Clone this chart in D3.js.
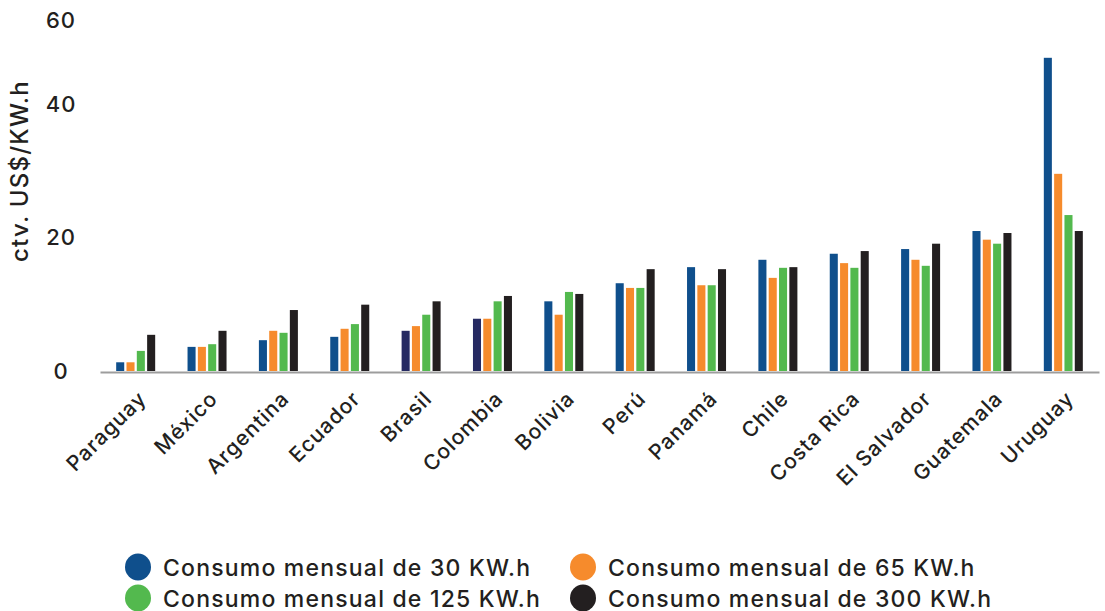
<!DOCTYPE html>
<html>
<head>
<meta charset="utf-8">
<script src="https://cdn.jsdelivr.net/npm/d3@7"></script>
<style>
  html, body { margin: 0; padding: 0; background: #fff; }
  svg { display: block; font-family: Inter, "Open Sans", sans-serif; }
</style>
</head>
<body>
<svg id="chart" width="1105" height="611"></svg>
<script>
// Residential electricity tariffs by monthly consumption (ctv. US$/KW.h)
const categories = ["Paraguay", "México", "Argentina", "Ecuador", "Brasil", "Colombia", "Bolivia",
  "Perú", "Panamá", "Chile", "Costa Rica", "El Salvador", "Guatemala", "Uruguay"];
const seriesNames = ["Consumo mensual de 30 KW.h", "Consumo mensual de 65 KW.h",
  "Consumo mensual de 125 KW.h", "Consumo mensual de 300 KW.h"];
const consumo30  = [1.3, 3.6, 4.6, 5.1, 6.0, 7.8, 10.4, 13.1, 15.5, 16.6, 17.5, 18.2, 20.9, 51.0];
const consumo65  = [1.3, 3.6, 6.0, 6.3, 6.7, 7.8, 8.4, 12.4, 12.8, 13.9, 16.1, 16.6, 19.6, 29.5];
const consumo125 = [3.0, 4.0, 5.7, 7.0, 8.4, 10.4, 11.8, 12.4, 12.8, 15.4, 15.4, 15.7, 19.0, 23.3];
const consumo300 = [5.4, 6.0, 9.1, 9.9, 10.4, 11.2, 11.5, 15.2, 15.2, 15.5, 17.9, 19.0, 20.6, 20.9];
const yTicks = [0, 20, 40, 60];
// countries whose 30 KW.h bar is printed in the darker navy tone
const navyThirty = ["Brasil", "Colombia"];

const colors = ["#0f4f8c", "#f68b2c", "#53b94e", "#231f20"];
const navy = "#262a62";
const textColor = "#231f20";

const seriesValues = [consumo30, consumo65, consumo125, consumo300];
const rows = categories.map((c, i) => ({
  country: c,
  values: seriesValues.map((arr, s) => ({ series: s, value: arr[i], country: c }))
}));

const svg = d3.select("#chart");

// x: one band per country, sub-bands per consumption level
const x = d3.scaleBand().domain(categories).range([100, 1099]).padding(0);
const xSub = d3.scaleBand().domain(d3.range(seriesNames.length)).range([-19.5, 19.5]).paddingInner(0.22);

// y: the printed axis compresses its top segment
const y = d3.scaleLinear().domain(yTicks).range([371, 237, 104, 20]);

// bars
const groups = svg.append("g").selectAll("g")
  .data(rows).join("g")
  .attr("transform", d => `translate(${x(d.country) + x.bandwidth() / 2},0)`);

groups.selectAll("rect")
  .data(d => d.values).join("rect")
  .attr("x", d => xSub(d.series))
  .attr("width", xSub.bandwidth())
  .attr("y", d => y(d.value))
  .attr("height", d => y(0) - y(d.value))
  .attr("fill", d => (d.series === 0 && navyThirty.includes(d.country)) ? navy : colors[d.series]);

// x axis
const xAxis = svg.append("g")
  .attr("transform", `translate(0,${y(0) + 1})`)
  .call(d3.axisBottom(x).tickSize(0).tickSizeOuter(0));
xAxis.select(".domain").attr("stroke", "#9d9d9d").attr("stroke-width", 2);
xAxis.selectAll("text")
  .attr("font-size", 21)
  .attr("font-weight", 500)
  .attr("letter-spacing", 1)
  .attr("fill", textColor)
  .attr("font-family", "Inter, 'Open Sans', sans-serif")
  .attr("text-anchor", "end")
  .attr("dy", 0)
  .attr("y", 0)
  .attr("transform", "translate(12,28) rotate(-45)");

// y axis labels
const yAxis = svg.append("g")
  .attr("transform", "translate(61,0)")
  .call(d3.axisLeft(y).tickValues(yTicks).tickSize(0).tickPadding(0));
yAxis.select(".domain").remove();
yAxis.selectAll("text")
  .attr("font-size", 22)
  .attr("font-weight", 500)
  .attr("letter-spacing", 1)
  .attr("fill", textColor)
  .attr("font-family", "Inter, 'Open Sans', sans-serif")
  .attr("text-anchor", "middle")
  .attr("x", 0)
  .attr("dy", "0.36em");

// y axis title
svg.append("text")
  .attr("transform", "translate(28,171) rotate(-90)")
  .attr("text-anchor", "middle")
  .attr("font-size", 24)
  .attr("font-weight", 500)
  .attr("letter-spacing", 1.2)
  .attr("fill", textColor)
  .text("ctv. US$/KW.h");

// legend
const legendPos = [[138, 567], [583, 567], [138, 598], [583, 598]];
const legendOrder = [0, 1, 2, 3];
const legend = svg.append("g").selectAll("g")
  .data(legendOrder).join("g")
  .attr("transform", (s, i) => `translate(${legendPos[i][0]},${legendPos[i][1]})`);
legend.append("ellipse")
  .attr("rx", 13).attr("ry", 13.5)
  .attr("fill", s => colors[s]);
legend.append("text")
  .attr("x", 25)
  .attr("y", 8.5)
  .attr("font-size", 23)
  .attr("font-weight", 500)
  .attr("letter-spacing", 1.2)
  .attr("fill", textColor)
  .text(s => seriesNames[s]);
</script>
</body>
</html>
